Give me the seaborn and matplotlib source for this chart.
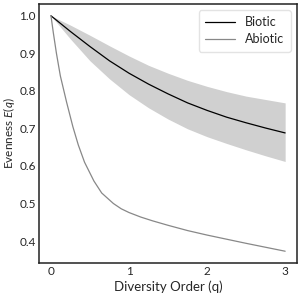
import numpy as np
import pandas as pd
import matplotlib
matplotlib.use("Agg")
import matplotlib.pyplot as plt
import seaborn as sns

# evenness profiles
q_biotic = [0, 0.25, 0.5, 0.75, 1.0, 1.25, 1.5, 1.75, 2.0, 2.25, 2.5, 2.75, 3.0]
e_biotic = [1.0, 0.958, 0.918, 0.88, 0.847, 0.818, 0.792, 0.768, 0.748, 0.73, 0.715, 0.701, 0.688]
e_biotic_hi = [1.0, 0.975, 0.948, 0.92, 0.893, 0.868, 0.847, 0.828, 0.812, 0.798, 0.786, 0.777, 0.768]
e_biotic_lo = [1.0, 0.938, 0.88, 0.832, 0.79, 0.755, 0.725, 0.699, 0.678, 0.66, 0.643, 0.627, 0.612]

q_abiotic = [0, 0.03, 0.07, 0.12, 0.2, 0.28, 0.35, 0.43, 0.55, 0.65, 0.8, 0.9, 1.0, 1.15, 1.3, 1.5, 1.75,
             2.0, 2.5, 3.0]
e_abiotic = [1.0, 0.955, 0.9, 0.84, 0.77, 0.705, 0.656, 0.61, 0.56, 0.528, 0.5, 0.486, 0.476, 0.464,
             0.454, 0.442, 0.428, 0.416, 0.394, 0.373]

df = pd.concat([
    pd.DataFrame({"q": q_biotic, "E": e_biotic, "group": "Biotic"}),
    pd.DataFrame({"q": q_abiotic, "E": e_abiotic, "group": "Abiotic"}),
])

sns.set_style("white")
plt.rcParams["font.family"] = ["Lato", "DejaVu Sans"]
plt.rcParams["mathtext.fontset"] = "custom"
plt.rcParams["mathtext.rm"] = "Lato"
plt.rcParams["mathtext.it"] = "Lato:italic"

fig = plt.figure(figsize=(3.02, 2.96), dpi=100)
ax = fig.add_axes([0.13, 0.1115, 0.853, 0.875])

ax.fill_between(q_biotic, e_biotic_lo, e_biotic_hi, color="#d0d0d0", lw=0)
sns.lineplot(data=df, x="q", y="E", hue="group", palette={"Biotic": "black", "Abiotic": "#888888"},
             linewidth=0.9, ax=ax)

ax.set_xticks([0, 1, 2, 3])
ax.set_yticks([0.4, 0.5, 0.6, 0.7, 0.8, 0.9, 1.0])
ax.set_yticklabels(["0.4", "0.5", "0.6", "0.7", "0.8", "0.9", "1.0"])
ax.tick_params(length=0, labelsize=8.5, pad=2.5)
ax.set_xlabel("Diversity Order (q)", fontsize=9.5, labelpad=2)
ax.set_ylabel("Evenness $E(q)$", fontsize=8.5)
ax.yaxis.set_label_coords(-0.085, 0.5)

for s in ax.spines.values():
    s.set_color("#222222")
    s.set_linewidth(1.1)

leg = ax.legend(loc="upper right", fontsize=9, frameon=True, handlelength=2.4, borderpad=0.5,
                labelspacing=0.4)
leg.get_frame().set_edgecolor("#dddddd")

fig.savefig("out.png", dpi=100)
